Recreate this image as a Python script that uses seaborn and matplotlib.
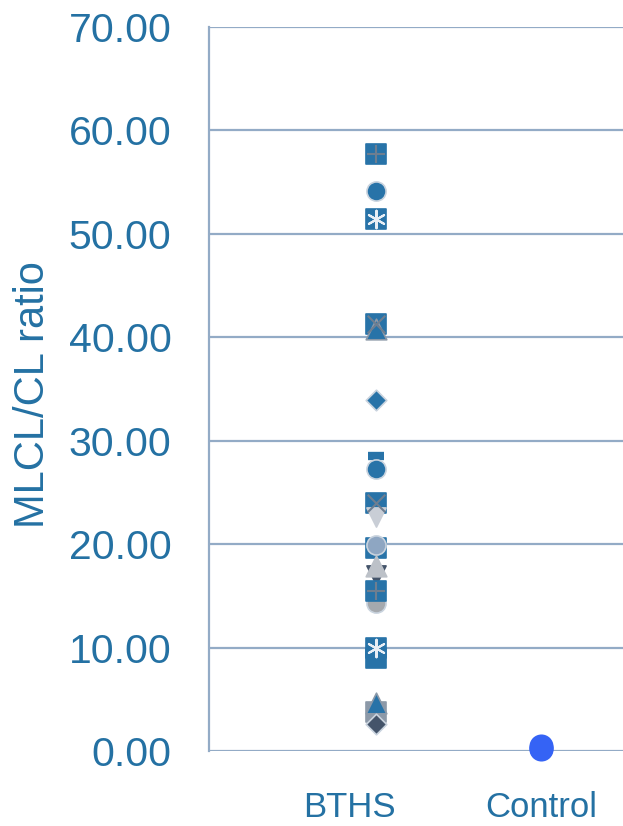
import matplotlib
matplotlib.use("Agg")
import matplotlib.pyplot as plt
import seaborn as sns
import pandas as pd

# ---- data (listed in drawing order, bottom to top) ----
categories = ["BTHS", "Control"]
bths_values = [57.7, 54.1, 51.4, 41.3, 40.8, 33.9, 28.5, 27.3, 24.0, 22.6,
               19.6, 19.9, 17.0, 17.9, 14.3, 15.5, 10.0, 9.0, 3.8, 4.6, 2.6]
bths_markers = ["s", "o", "s", "s", "^", "D", "_", "o", "s", "v",
                "s", "o", "v", "^", "o", "s", "s", "s", "s", "^", "D"]
bths_colors = ["#2873A8", "#2873A8", "#2873A8", "#2873A8", "#2873A8", "#2873A8", "#2873A8",
               "#2873A8", "#2873A8", "#C9CED6", "#2873A8", "#8EA6C2", "#44546A", "#BCC1C8",
               "#A5A9AE", "#2873A8", "#2873A8", "#2873A8", "#8C99A8", "#2873A8", "#44546A"]
bths_overlay = ["+", None, "asterisk", "x", None, None, None, None, "x", None,
                None, None, None, None, None, "+", "asterisk", None, None, None, None]
control_values = [0.5, 0.3, 0.2]
control_markers = ["o", "o", "o"]
control_color = "#3563F5"
yticks = [0, 10, 20, 30, 40, 50, 60, 70]

text_color = "#2471A3"
grid_color = "#93ABC6"

sns.set_theme(style="white")
plt.rcParams["font.family"] = ["Liberation Sans", "DejaVu Sans"]

rows = []
for v, m, c, o in zip(bths_values, bths_markers, bths_colors, bths_overlay):
    rows.append(dict(group=categories[0], value=v, marker=m, color=c, overlay=o))
for v, m in zip(control_values, control_markers):
    rows.append(dict(group=categories[1], value=v, marker=m, color=control_color, overlay=None))
df = pd.DataFrame(rows)
df["xpos"] = df["group"].map({categories[0]: 0.0, categories[1]: 1.0})

fig = plt.figure(figsize=(6.23, 8.26), dpi=100)
ax = fig.add_axes([209 / 623, 75 / 826, 414 / 623, 724 / 826])

sizes = {"s": 200, "o": 190, "D": 110, "^": 220, "v": 190, "_": 120}
for i, r in df.iterrows():
    sub = df.loc[[i]]
    m = r["marker"]
    s = sizes.get(m, 180)
    ec = "#C9D3DE" if m in ("o", "D") else r["color"]
    if r["group"] == categories[1]:
        s = 260
        ec = "#3563F5"
    if m == "^" and r["color"] == "#2873A8":
        ec = "#8C99A8"
    sns.scatterplot(data=sub, x="xpos", y="value", marker=m, s=s,
                    color=r["color"], edgecolor=ec,
                    linewidth=1.2 if m != "_" else 6, ax=ax, clip_on=False, zorder=3)
    ov = r["overlay"]
    if ov is not None:
        mk = (6, 2, 0) if ov == "asterisk" else ov
        oc = "#E8EEF5" if ov == "asterisk" else "#6E7E90"
        sns.scatterplot(data=sub, x="xpos", y="value", marker=mk, s=160,
                        color=oc, linewidth=1.5, ax=ax, clip_on=False, zorder=4)

ax.set_ylim(0, 70)
ax.set_xlim(-1.012, 1.497)
ax.set_yticks(yticks)
ax.set_yticklabels([f"{t:.2f}" for t in yticks])
ax.set_xticks([-0.158, 1.0])
ax.set_xticklabels(categories)
ax.grid(axis="y", color=grid_color, linewidth=1.6)
ax.grid(axis="x", visible=False)
ax.set_axisbelow(True)
for s in ["top", "right", "bottom"]:
    ax.spines[s].set_visible(False)
ax.spines["left"].set_color(grid_color)
ax.spines["left"].set_linewidth(1.6)
ax.tick_params(axis="y", length=0, pad=27, labelsize=29.5, labelcolor=text_color)
ax.tick_params(axis="x", length=0, pad=29, labelsize=25, labelcolor=text_color)
ax.set_xlabel("")
ax.set_ylabel("MLCL/CL ratio", fontsize=30, color=text_color)
ax.yaxis.label.set_verticalalignment("center")
ax.yaxis.set_label_coords(-0.425, 0.493)

fig.savefig("out.png", dpi=100)
